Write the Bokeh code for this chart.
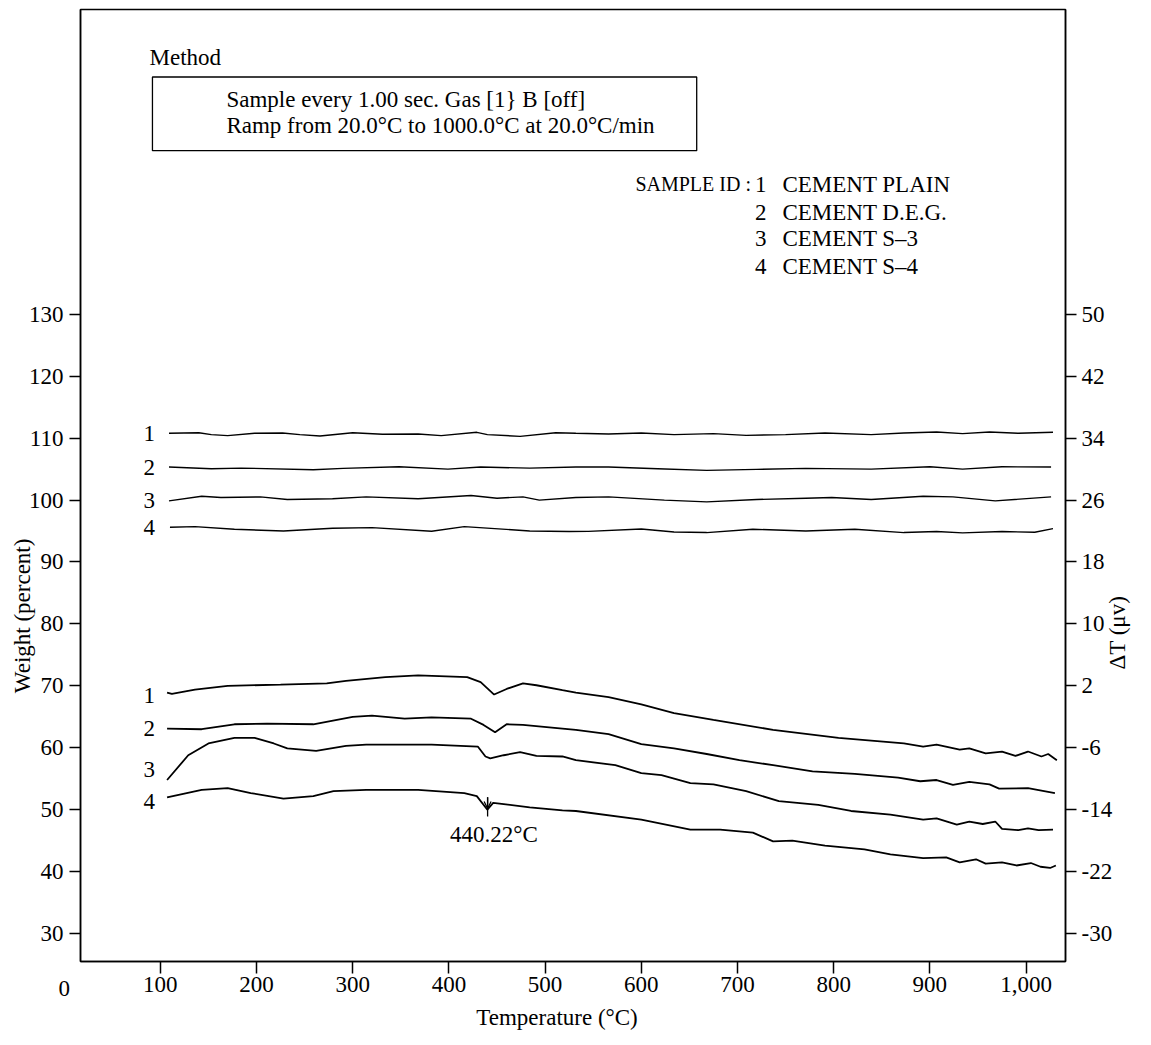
import numpy as np
from bokeh.plotting import figure
from bokeh.models import (Range1d, LinearAxis, FixedTicker, Label, BoxAnnotation,
                          Arrow, OpenHead)
from bokeh.core.properties import value
from bokeh.embed import file_html
from bokeh.resources import INLINE

# ---------------- data ----------------
x_ticks = [100, 200, 300, 400, 500, 600, 700, 800, 900, 1000]
wt_ticks = [30, 40, 50, 60, 70, 80, 90, 100, 110, 120, 130]
dt_ticks = [-30, -22, -14, -6, 2, 10, 18, 26, 34, 42, 50]
curve_ids = ["1", "2", "3", "4"]
sample_names = ["CEMENT PLAIN", "CEMENT D.E.G.", "CEMENT S\u20133", "CEMENT S\u20134"]

# upper traces: Delta T (micro-volt), right axis
dt1_T = [109, 140, 153, 170, 198, 227, 245, 266, 300, 331, 368, 392, 429, 440, 474, 511,
         532, 566, 600, 634, 675, 709, 750, 791, 839, 873, 907, 934, 962, 992, 1028]
dt1_v = [34.62, 34.70, 34.45, 34.32, 34.62, 34.66, 34.45, 34.28, 34.70, 34.49, 34.53, 34.32, 34.75, 34.45, 34.23, 34.70,
         34.62, 34.53, 34.66, 34.45, 34.58, 34.36, 34.45, 34.66, 34.45, 34.66, 34.79, 34.58, 34.79, 34.62, 34.75]
dt2_T = [109, 153, 184, 259, 290, 348, 399, 433, 484,
         532, 566, 617, 668, 720, 771, 839, 900, 934, 975, 1026]
dt2_v = [30.26, 30.05, 30.13, 29.92, 30.09, 30.30, 30.00, 30.26, 30.13,
         30.26, 30.26, 30.05, 29.83, 29.96, 30.09, 30.00, 30.30, 30.00, 30.30, 30.26]
dt3_T = [109, 143, 163, 204, 232, 279, 314, 368, 423, 450, 477, 494,
         532, 566, 624, 668, 720, 771, 798, 839, 893, 924, 968, 1026]
dt3_v = [25.90, 26.50, 26.33, 26.41, 26.07, 26.16, 26.41, 26.16, 26.58, 26.24, 26.41, 25.99,
         26.33, 26.41, 25.99, 25.77, 26.07, 26.24, 26.33, 26.07, 26.50, 26.41, 25.90, 26.41]
dt4_T = [110, 136, 177, 228, 279, 320, 382, 416, 484, 525,
         545, 600, 634, 668, 716, 771, 822, 873, 907, 934, 975, 1009, 1028]
dt4_v = [22.48, 22.57, 22.23, 22.01, 22.35, 22.44, 21.97, 22.57, 22.01, 21.93,
         21.95, 22.27, 21.88, 21.80, 22.23, 22.01, 22.23, 21.80, 21.93, 21.76, 21.93, 21.84, 22.31]

# lower traces: weight (percent), left axis
w1_T = [107, 112, 136, 170, 225, 273, 293, 334, 368, 419, 433, 447, 460, 477, 491, 518,
        532, 566, 600, 634, 675, 737, 805, 873, 893, 907, 931, 941, 958, 975, 989, 1002, 1016, 1023, 1032]
w1_v = [68.9, 68.7, 69.4, 70.0, 70.2, 70.4, 70.8, 71.4, 71.7, 71.4, 70.6, 68.6, 69.5, 70.4, 70.1, 69.3,
        68.9, 68.2, 67.0, 65.6, 64.5, 62.9, 61.6, 60.7, 60.2, 60.5, 59.7, 59.9, 59.1, 59.4, 58.7, 59.4, 58.6, 59.0, 58.0]
w2_T = [107, 143, 177, 211, 259, 300, 320, 354, 382, 423, 436, 448, 460, 477, 518,
        532, 566, 600, 634, 668, 702, 737, 778, 822, 867, 890, 907, 924, 941, 962, 972, 1002, 1030]
w2_v = [63.1, 63.0, 63.8, 63.9, 63.8, 65.0, 65.2, 64.7, 64.9, 64.7, 63.7, 62.5, 63.8, 63.7, 63.1,
        62.9, 62.2, 60.6, 59.9, 59.0, 58.0, 57.2, 56.2, 55.8, 55.2, 54.6, 54.8, 54.0, 54.5, 54.1, 53.4, 53.5, 52.7]
w3_T = [107, 129, 150, 177, 198, 218, 232, 262, 293, 314, 382, 430, 438, 443, 457, 474, 491, 518,
        532, 573, 600, 621, 651, 675, 709, 743, 784, 818, 859, 893, 907, 928, 941, 955, 968, 975, 992, 1002, 1013, 1028]
w3_v = [54.8, 58.8, 60.7, 61.6, 61.6, 60.7, 59.9, 59.5, 60.3, 60.5, 60.5, 60.2, 58.6, 58.3, 58.8, 59.3, 58.7, 58.6,
        58.0, 57.2, 55.9, 55.6, 54.3, 54.1, 53.0, 51.4, 50.8, 49.8, 49.2, 48.4, 48.6, 47.6, 48.1, 47.7, 48.1, 46.9, 46.7, 47.0, 46.7, 46.8]
w4_T = [107, 143, 170, 194, 228, 259, 280, 314, 368, 416, 429, 440, 446, 457, 484, 518,
        532, 600, 651, 682, 716, 737, 757, 791, 832, 859, 893, 917, 931, 948, 958, 975, 990, 1005, 1015, 1025, 1031]
w4_v = [52.0, 53.2, 53.5, 52.7, 51.8, 52.2, 53.0, 53.2, 53.2, 52.7, 52.2, 50.0, 51.1, 50.9, 50.4, 49.9,
        49.8, 48.4, 46.8, 46.8, 46.3, 44.9, 45.0, 44.2, 43.6, 42.8, 42.2, 42.3, 41.5, 42.0, 41.3, 41.5, 41.0, 41.4, 40.8, 40.6, 41.0]

peak_T = 440.22

# ---------------- layout constants ----------------
FONT = "Liberation Serif"
FS = "23px"
Y0, Y1 = 25.5, 179.2
X0, X1 = 17, 1041

def dt_of(w):
    return 0.8 * w - 54

p = figure(width=1140, height=1034, output_backend="svg", toolbar_location=None,
           x_range=Range1d(X0, X1), y_range=Range1d(Y0, Y1),
           min_border_left=77, min_border_right=64, min_border_top=9, min_border_bottom=66,
           background_fill_color="white", border_fill_color="white")
p.xgrid.visible = False
p.ygrid.visible = False
p.outline_line_color = "black"
p.outline_line_width = 1.5
p.extra_y_ranges = {"dt": Range1d(dt_of(Y0), dt_of(Y1))}

right = LinearAxis(y_range_name="dt")
p.add_layout(right, "right")

def style(ax, ticks, tick_out=11, standoff=6):
    ax.ticker = FixedTicker(ticks=ticks)
    ax.axis_line_color = "black"
    ax.axis_line_width = 1.5
    ax.major_tick_line_color = "black"
    ax.major_tick_line_width = 1.5
    ax.major_tick_in = 0
    ax.major_tick_out = tick_out
    ax.minor_tick_line_color = None
    ax.major_label_text_font = FONT
    ax.major_label_text_font_size = FS
    ax.major_label_text_color = "black"
    ax.major_label_standoff = standoff

style(p.xaxis[0], x_ticks, tick_out=12, standoff=3)
p.xaxis[0].major_label_overrides = {1000: "1,000"}
style(p.yaxis[0], wt_ticks, standoff=6)
style(right, dt_ticks, standoff=5)
right.major_label_overrides = {t: str(t) for t in dt_ticks}

# traces
for T, v in [(dt1_T, dt1_v), (dt2_T, dt2_v), (dt3_T, dt3_v), (dt4_T, dt4_v)]:
    p.line(T, v, y_range_name="dt", line_color="black", line_width=1.4)
for T, v in [(w1_T, w1_v), (w2_T, w2_v), (w3_T, w3_v), (w4_T, w4_v)]:
    p.line(T, v, line_color="black", line_width=1.8)

# curve labels
lab_x = [88.6, 88.6, 88.6, 88.6]
up_y = [dt1_v[0], dt2_v[0], dt3_v[0], dt4_v[0]]
lo_y = [68.46, 63.17, 56.44, 51.36]
p.text(x=lab_x, y=up_y, text=curve_ids, y_range_name="dt", text_font=value(FONT),
       text_font_size=value(FS), text_align="center", text_baseline="middle", text_color="black")
p.text(x=lab_x, y=lo_y, text=curve_ids, text_font=value(FONT),
       text_font_size=value(FS), text_align="center", text_baseline="middle", text_color="black")

# peak marker
p.segment(x0=[peak_T], y0=[52.0], x1=[peak_T], y1=[48.9], line_color="black", line_width=1.3)
p.add_layout(Arrow(end=OpenHead(size=7, line_width=1.3), x_start=peak_T, y_start=52.0,
                   x_end=peak_T, y_end=50.2, line_width=1.3))

def lab(x, y, text, align="left", angle=0.0, place="center", size=FS):
    p.add_layout(Label(x=x, y=y, text=text, text_align=align, text_baseline="middle",
                       angle=angle, text_font=FONT, text_font_size=size, text_color="black"), place)

lab(peak_T + 6.5, 46.0, "%.2f\u00b0C" % peak_T, align="center")

# method box
p.add_layout(BoxAnnotation(left=91.8, right=657.6, bottom=156.4, top=168.3,
                           fill_color=None, line_color="black", line_width=1.3, line_alpha=1))
lab(88.8, 171.5, "Method")
lab(168.7, 164.6, "Sample every 1.00 sec. Gas [1}  B [off]")
lab(168.7, 160.4, "Ramp from 20.0\u00b0C to 1000.0\u00b0C at 20.0\u00b0C/min")

# sample IDs
id_y = [151.0, 146.5, 142.2, 137.7]
lab(714, id_y[0], "SAMPLE ID :", align="right", size="20px")
for i in range(4):
    lab(724.3, id_y[i], curve_ids[i], align="center")
    lab(746.7, id_y[i], sample_names[i])

# axis titles and the 0 label (placed in side panels so they are not clipped)
lab(0, 21.2, "0", align="center", place="below")
lab(512.4, 16.4, "Temperature (\u00b0C)", align="center", place="below")
lab(-43.4, 81.3, "Weight (percent)", align="center", angle=np.pi / 2, place="left")
lab(1094.8, 78.6, "\u0394T (\u03bcv)", align="center", angle=np.pi / 2, place="right")

open("out.html", "w").write(file_html(p, INLINE))
